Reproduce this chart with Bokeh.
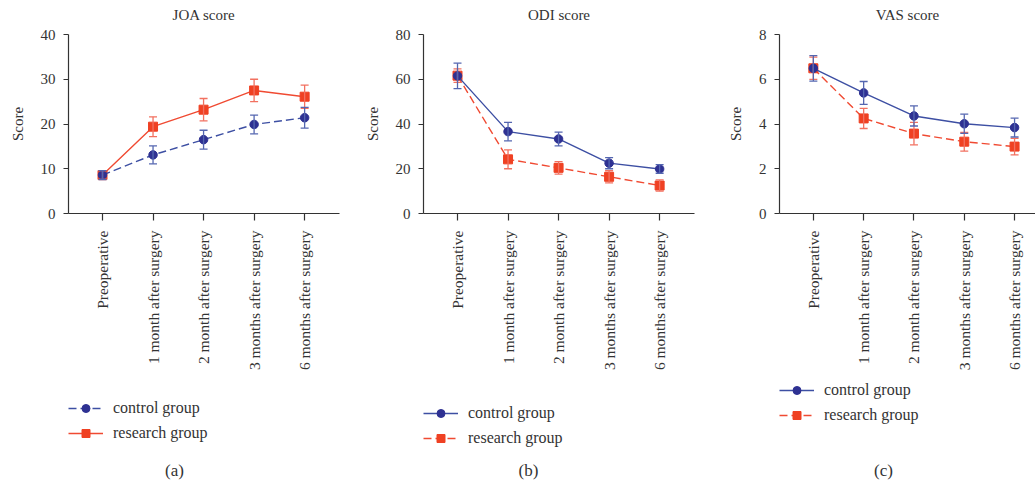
import math
import numpy as np
from bokeh.plotting import figure
from bokeh.layouts import row, column
from bokeh.models import (Range1d, FixedTicker, Legend, LegendItem, Whisker,
                          TeeHead, ColumnDataSource, Label)
from bokeh.embed import file_html
from bokeh.resources import INLINE

categories = ["Preoperative", "1 month after surgery", "2 month after surgery",
              "3 months after surgery", "6 months after surgery"]

joa_control = [8.6, 13.1, 16.5, 19.9, 21.4]
joa_control_err = [1.0, 2.0, 2.1, 2.1, 2.3]
joa_research = [8.6, 19.4, 23.2, 27.5, 26.1]
joa_research_err = [1.0, 2.2, 2.5, 2.5, 2.6]

odi_control = [61.5, 36.6, 33.3, 22.5, 19.9]
odi_control_err = [5.7, 4.1, 3.1, 2.5, 1.9]
odi_research = [61.6, 24.2, 20.4, 16.4, 12.5]
odi_research_err = [3.0, 4.2, 2.8, 2.7, 2.5]

vas_control = [6.49, 5.39, 4.36, 4.01, 3.84]
vas_control_err = [0.57, 0.51, 0.45, 0.43, 0.42]
vas_research = [6.49, 4.25, 3.57, 3.21, 2.99]
vas_research_err = [0.5, 0.45, 0.5, 0.42, 0.37]

titles = ["JOA score", "ODI score", "VAS score"]
y_max = [40, 80, 8]
y_ticks = [[0, 10, 20, 30, 40], [0, 20, 40, 60, 80], [0, 2, 4, 6, 8]]
captions = ["(a)", "(b)", "(c)"]
series_names = ["control group", "research group"]

FONT = "Liberation Serif"
TXT = "#333333"
BLUE = "#2E3192"
BLUE_LINE = "#3D4FA3"
BLUE_ERR = "#5466B0"
RED = "#EF4123"
RED_LINE = "#F04A32"
RED_ERR = "#F27160"

xs = list(range(len(categories)))

TITLE_H = 26
TOP = 8
FRAME_H = 179
BOTTOM = 165
LEG_H = 111


def blank_fig(width, height):
    f = figure(output_backend="svg", toolbar_location=None,
               width=width, height=height, min_border=0,
               x_range=Range1d(0, 1), y_range=Range1d(0, 1),
               x_axis_type=None, y_axis_type=None)
    f.outline_line_color = None
    f.grid.visible = False
    f.border_fill_color = "white"
    return f


def panel(idx, ctrl, ctrl_err, res, res_err, ctrl_dash, res_dash,
          left_border, right_border, frame_w, x_end, legend_vy, cap_x):
    total_w = left_border + frame_w + right_border

    # title strip
    t = blank_fig(total_w, TITLE_H)
    t.add_layout(Label(x=frame_w / 2, y=TITLE_H - 14, x_units="screen",
                       y_units="screen", text=titles[idx], text_font=FONT,
                       text_font_size="15px", text_color=TXT,
                       text_align="center", text_baseline="middle"))

    p = figure(output_backend="svg", toolbar_location=None,
               frame_width=frame_w, frame_height=FRAME_H,
               min_border_left=left_border, min_border_right=right_border,
               min_border_top=TOP, min_border_bottom=BOTTOM,
               x_range=Range1d(-0.673, x_end), y_range=Range1d(0, y_max[idx]))
    p.outline_line_color = None
    p.background_fill_color = "white"
    p.border_fill_color = "white"
    p.grid.visible = False

    for ax in (p.xaxis[0], p.yaxis[0]):
        ax.axis_line_color = TXT
        ax.major_tick_line_color = TXT
        ax.minor_tick_line_color = None
        ax.major_tick_in = 0
        ax.major_label_text_font = FONT
        ax.major_label_text_color = TXT
        ax.major_label_text_font_size = "15px"
        ax.axis_line_width = 1.2
        ax.major_tick_line_width = 1.2

    p.xaxis.ticker = FixedTicker(ticks=xs)
    p.xaxis.major_label_overrides = {i: c for i, c in enumerate(categories)}
    p.xaxis.major_label_orientation = math.pi / 2
    p.xaxis.major_label_text_font_size = "15.5px"
    p.xaxis.major_tick_out = 7
    p.xaxis.major_label_standoff = 10

    p.yaxis.ticker = FixedTicker(ticks=y_ticks[idx])
    p.yaxis.major_tick_out = 5
    p.yaxis.major_label_standoff = 8
    p.yaxis.axis_label = "Score"
    p.yaxis.axis_label_text_font = FONT
    p.yaxis.axis_label_text_font_style = "normal"
    p.yaxis.axis_label_text_font_size = "15px"
    p.yaxis.axis_label_text_color = TXT
    p.yaxis.axis_label_standoff = 12

    src_r = ColumnDataSource(dict(x=xs, y=res,
                                  lo=[v - e for v, e in zip(res, res_err)],
                                  hi=[v + e for v, e in zip(res, res_err)]))
    src_c = ColumnDataSource(dict(x=xs, y=ctrl,
                                  lo=[v - e for v, e in zip(ctrl, ctrl_err)],
                                  hi=[v + e for v, e in zip(ctrl, ctrl_err)]))

    for src, col in ((src_r, RED_ERR), (src_c, BLUE_ERR)):
        w = Whisker(source=src, base="x", lower="lo", upper="hi",
                    line_color=col, line_width=1.3, level="glyph",
                    upper_head=TeeHead(size=8, line_color=col, line_width=1.3),
                    lower_head=TeeHead(size=8, line_color=col, line_width=1.3))
        p.add_layout(w)

    line_r = dict(line_color=RED_LINE, line_width=1.4, line_dash=res_dash)
    mark_r = dict(marker="square", size=9, fill_color=RED, line_color=RED)
    line_c = dict(line_color=BLUE_LINE, line_width=1.4, line_dash=ctrl_dash)
    mark_c = dict(marker="circle", size=8.5, fill_color=BLUE, line_color=BLUE)

    p.line("x", "y", source=src_r, **line_r)
    p.scatter("x", "y", source=src_r, **mark_r)
    p.line("x", "y", source=src_c, **line_c)
    p.scatter("x", "y", source=src_c, **mark_c)

    # legend + caption strip under the chart (legend-only proxies hold NaN)
    q = blank_fig(total_w, LEG_H)
    proxy = ColumnDataSource(dict(x=np.array([np.nan]), y=np.array([np.nan])))
    cl = q.line("x", "y", source=proxy, **line_c)
    cs = q.scatter("x", "y", source=proxy, **mark_c)
    rl = q.line("x", "y", source=proxy, **line_r)
    rs = q.scatter("x", "y", source=proxy, **mark_r)
    legend = Legend(items=[LegendItem(label=series_names[0], renderers=[cl, cs]),
                           LegendItem(label=series_names[1], renderers=[rl, rs])],
                    location=(0, legend_vy), padding=0, margin=0,
                    spacing=5, glyph_width=35, glyph_height=20, label_height=20,
                    label_standoff=10, border_line_color=None,
                    background_fill_alpha=0,
                    label_text_font=FONT, label_text_font_size="16px",
                    label_text_color=TXT)
    q.add_layout(legend, "center")
    q.add_layout(Label(x=cap_x, y=19, x_units="screen", y_units="screen",
                       text=captions[idx], text_font=FONT, text_font_size="17px",
                       text_color=TXT, text_align="center",
                       text_baseline="middle"))
    return column(t, p, q)


pa = panel(0, joa_control, joa_control_err, joa_research, joa_research_err,
           "8 4", "solid", 68, 16, 271, 4.69, 46, 174 - 68)
pb = panel(1, odi_control, odi_control_err, odi_research, odi_research_err,
           "solid", "8 4", 68, 17, 271, 4.69, 41, 528 - 423)
pc = panel(2, vas_control, vas_control_err, vas_research, vas_research_err,
           "solid", "8 4", 68, 0, 256, 4.416, 64, 883 - 779)

layout = row(pa, pb, pc)
open("out.html", "w").write(file_html(layout, INLINE))
